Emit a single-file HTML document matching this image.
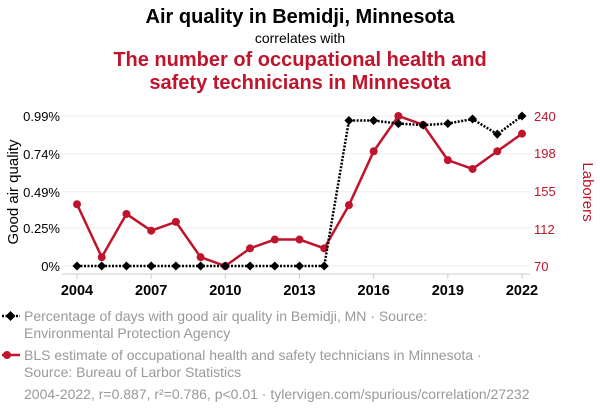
<!DOCTYPE html>
<html><head><meta charset="utf-8"><style>
body{margin:0;background:#fff;font-family:"Liberation Sans",sans-serif;}
svg text{font-family:"Liberation Sans",sans-serif;}
</style></head><body>
<svg width="600" height="414" viewBox="0 0 600 414">
<text x="300" y="23" text-anchor="middle" font-size="20" font-weight="bold" fill="#000">Air quality in Bemidji, Minnesota</text>
<text x="300" y="43" text-anchor="middle" font-size="14" fill="#000">correlates with</text>
<text x="300" y="66" text-anchor="middle" font-size="20" font-weight="bold" fill="#c0142c">The number of occupational health and</text>
<text x="300" y="89" text-anchor="middle" font-size="20" font-weight="bold" fill="#c0142c">safety technicians in Minnesota</text>
<g id="grid"></g>
<line x1="62" y1="274" x2="530" y2="274" stroke="#ccc"/>
<g id="xt"></g>
<g id="yl"></g>
<g id="yr"></g>
<text transform="translate(18,192) rotate(-90)" text-anchor="middle" font-size="15" fill="#000">Good air quality</text>
<text transform="translate(583,192) rotate(90)" text-anchor="middle" font-size="15" fill="#c0142c">Laborers</text>
<g id="red"></g>
<g id="blk"></g>
<g>
<line x1="2" y1="316" x2="20" y2="316" stroke="#000" stroke-width="2.5" stroke-dasharray="2,1.5"/>
<rect x="7" y="312.5" width="7" height="7" transform="rotate(45 10.5 316)" fill="#000"/>
<text x="24" y="321" font-size="14" fill="#999">Percentage of days with good air quality in Bemidji, MN · Source:</text>
<text x="24" y="338" font-size="14" fill="#999">Environmental Protection Agency</text>
</g>
<g>
<line x1="2" y1="355" x2="20" y2="355" stroke="#c0142c" stroke-width="2.5"/>
<circle cx="7" cy="355" r="4" fill="#c0142c"/>
<text x="24" y="360" font-size="14" fill="#999">BLS estimate of occupational health and safety technicians in Minnesota ·</text>
<text x="24" y="377" font-size="14" fill="#999">Source: Bureau of Larbor Statistics</text>
</g>
<text x="24" y="399" font-size="14" fill="#999">2004-2022, r=0.887, r²=0.786, p&lt;0.01 · tylervigen.com/spurious/correlation/27232</text>
</svg>
<script>
const years=[2004,2005,2006,2007,2008,2009,2010,2011,2012,2013,2014,2015,2016,2017,2018,2019,2020,2021,2022];
const airQuality=[0,0,0,0,0,0,0,0,0,0,0,0.96,0.96,0.94,0.93,0.94,0.97,0.87,0.99];
const laborers=[140,80,129,110,120,80,70,90,100,100,90,139,200,240,230,190,180,200,220];
const xTicks=[2004,2007,2010,2013,2016,2019,2022];
const leftTicks=[0,0.25,0.49,0.74,0.99];
const leftLabels=["0%","0.25%","0.49%","0.74%","0.99%"];
const rightTicks=[70,112,155,198,240];
const NS="http://www.w3.org/2000/svg";
const x=v=>77+(v-2004)/(2022-2004)*445;
const yL=v=>266-v/0.99*150;
const yR=v=>266-(v-70)/(240-70)*150;
function mk(tag,attrs,parent,txt){const e=document.createElementNS(NS,tag);for(const k in attrs)e.setAttribute(k,attrs[k]);if(txt!=null)e.textContent=txt;parent.appendChild(e);return e;}
const grid=document.getElementById('grid'),xt=document.getElementById('xt'),yl=document.getElementById('yl'),yr=document.getElementById('yr');
leftTicks.forEach((t,i)=>{
 const g=mk('line',{x1:62,x2:530,y1:yL(t),y2:yL(t),stroke:'#eee'},grid);
 
 
 const l=mk('text',{x:60,y:yL(t)+5,'text-anchor':'end','font-size':13,fill:'#000'},yl,leftLabels[i]);
 
 
});
rightTicks.forEach(t=>{
 const l=mk('text',{x:534,y:yR(t)+5,'font-size':13,fill:'#c0142c'},yr,String(t));
 
 
});
xTicks.forEach(t=>{
 mk('line',{x1:x(t),x2:x(t),y1:274,y2:279,stroke:'#ccc'},xt);
 const l=mk('text',{x:x(t),y:295,'text-anchor':'middle','font-size':14.5,'font-weight':'bold',fill:'#000'},xt,String(t));
 
 
});
const red=document.getElementById('red'),blk=document.getElementById('blk');
const rl=mk('polyline',{points:years.map((y,i)=>x(y)+','+yR(laborers[i])).join(' '),fill:'none',stroke:'#c0142c','stroke-width':2.5},red);


years.forEach((y,i)=>{const c=mk('circle',{cx:x(y),cy:yR(laborers[i]),r:4,fill:'#c0142c'},red);
 
 });
const bl=mk('polyline',{points:years.map((y,i)=>x(y)+','+yL(airQuality[i])).join(' '),fill:'none',stroke:'#000','stroke-width':2.5,'stroke-dasharray':'2,1.5'},blk);


years.forEach((y,i)=>{const cx=x(y),cy=yL(airQuality[i]);
 const r=mk('rect',{x:cx-3.2,y:cy-3.2,width:6.4,height:6.4,fill:'#000',transform:`rotate(45 ${cx} ${cy})`},blk);
 
 });
</script>
</body></html>
